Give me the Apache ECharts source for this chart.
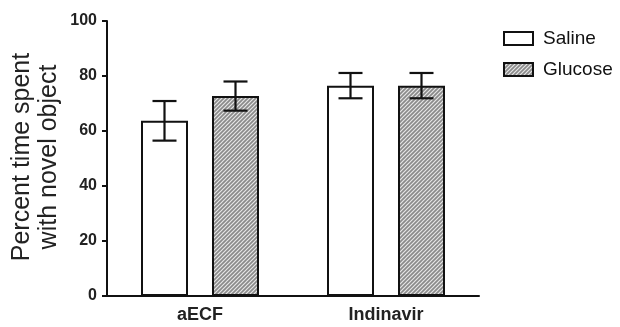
<!DOCTYPE html>
<html><head><meta charset="utf-8">
<script src="https://cdn.jsdelivr.net/npm/echarts@6/dist/echarts.min.js"></script>
<style>html,body{margin:0;padding:0;background:#fff}#c{width:620px;height:327px}</style>
</head><body><div id="c"></div>
<script>
var categories = ['aECF', 'Indinavir'];
var salineMean = [63.7, 76.5];
var salineErr = [7.2, 4.6];
var glucoseMean = [72.7, 76.5];
var glucoseErr = [5.3, 4.6];
var yTicks = [0, 20, 40, 60, 80, 100];

function hatch() {
  var c = document.createElement('canvas');
  c.width = 4; c.height = 4;
  var g = c.getContext('2d');
  g.fillStyle = '#8a8a8a';
  g.fillRect(0, 0, 4, 4);
  g.strokeStyle = '#e6e6e6';
  g.lineWidth = 1.2;
  g.beginPath();
  g.moveTo(-1, 5); g.lineTo(5, -1);
  g.moveTo(-1, 1); g.lineTo(1, -1);
  g.moveTo(3, 5); g.lineTo(5, 3);
  g.stroke();
  return c;
}
var pat = { image: hatch(), repeat: 'repeat' };

var chart = echarts.init(document.getElementById('c'));
var FONT = 'Liberation Sans, Arial, sans-serif';
var barW = 47, gapPx = 24;

function errSeries(name, means, errs, idx) {
  return {
    type: 'custom', name: name + ' err', z: 5,
    data: means.map(function (m, i) { return [i, m - errs[i], m + errs[i]]; }),
    renderItem: function (params, api) {
      var i = api.value(0);
      var lo = api.coord([i, api.value(1)]);
      var hi = api.coord([i, api.value(2)]);
      var off = (idx === 0 ? -1 : 1) * (barW + gapPx) / 2;
      var x = lo[0] + off;
      var hw = 12;
      var st = { stroke: '#111', lineWidth: 2.2, fill: null };
      return { type: 'group', children: [
        { type: 'line', shape: { x1: x, y1: lo[1], x2: x, y2: hi[1] }, style: st },
        { type: 'line', shape: { x1: x - hw, y1: hi[1], x2: x + hw, y2: hi[1] }, style: st },
        { type: 'line', shape: { x1: x - hw, y1: lo[1], x2: x + hw, y2: lo[1] }, style: st }
      ]};
    }
  };
}

chart.setOption({
  animation: false,
  textStyle: { fontFamily: FONT },
  grid: { left: 107, right: 141, top: 21, bottom: 31 },
  legend: {
    data: ['Saline', 'Glucose'], orient: 'vertical', left: 503, top: 29, padding: 0,
    icon: 'rect', itemWidth: 29, itemHeight: 13, itemGap: 12,
    textStyle: { fontSize: 19, color: '#111', fontFamily: FONT, padding: [0, 0, 0, 5] }
  },
  xAxis: {
    type: 'category', data: categories,
    axisLine: { lineStyle: { color: '#111', width: 2 } },
    axisTick: { alignWithLabel: true, length: 5, lineStyle: { color: '#111', width: 2 } },
    axisLabel: { fontSize: 18, fontWeight: 'bold', color: '#222', margin: 10 }
  },
  yAxis: {
    type: 'value', min: yTicks[0], max: yTicks[yTicks.length - 1], interval: 20,
    splitLine: { show: false },
    axisLine: { show: true, lineStyle: { color: '#111', width: 2 } },
    axisTick: { show: true, length: 5, lineStyle: { color: '#111', width: 2 } },
    axisLabel: { fontSize: 16, fontWeight: 'bold', color: '#222', margin: 10 }
  },
  graphic: [{
    type: 'text', x: 36, y: 157, rotation: Math.PI / 2,
    style: { text: 'Percent time spent\nwith novel object', font: '25px ' + FONT,
      fill: '#222', align: 'center', verticalAlign: 'middle', lineHeight: 27 }
  }],
  series: [
    { type: 'bar', name: 'Saline', data: salineMean, barWidth: barW, barGap: (gapPx / barW * 100) + '%',
      itemStyle: { color: '#fff', borderColor: '#111', borderWidth: 2 } },
    { type: 'bar', name: 'Glucose', data: glucoseMean, barWidth: barW,
      itemStyle: { color: pat, borderColor: '#111', borderWidth: 2 } },
    errSeries('Saline', salineMean, salineErr, 0),
    errSeries('Glucose', glucoseMean, glucoseErr, 1)
  ]
});
</script></body></html>
